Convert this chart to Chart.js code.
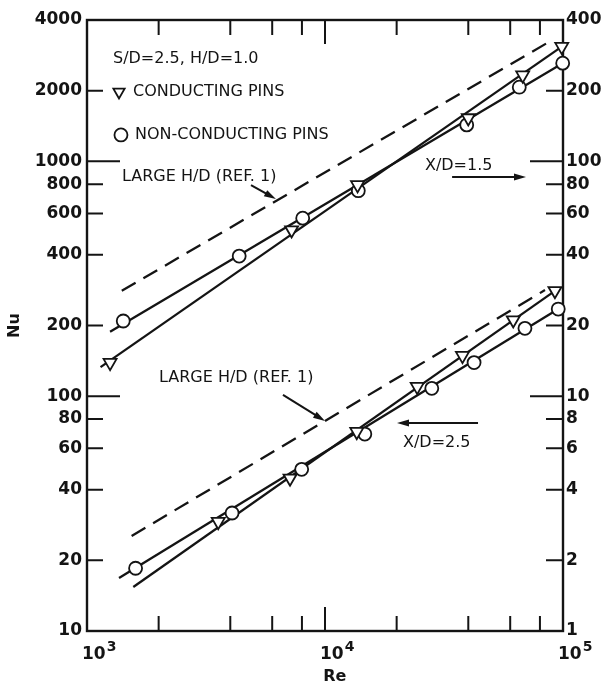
<!DOCTYPE html>
<html>
<head>
<meta charset="UTF-8">
<title>Nu vs Re - pin fin arrays</title>
<script src="https://cdn.jsdelivr.net/npm/chart.js"></script>
<style>
  html, body { margin: 0; padding: 0; background: #fff; }
  #nuChart { display: block; }
</style>
</head>
<body>
<canvas id="nuChart" width="607" height="688"></canvas>
<script>
// X/D = 1.5 (upper set)
const reNonCond15 = [1420, 4360, 8060, 13800, 39400, 65500, 99700];
const nuNonCond15 = [209, 395, 573, 750, 1430, 2070, 2620];
const reCond15 = [1250, 7240, 13700, 40000, 67700, 98800];
const nuCond15 = [139, 510, 794, 1530, 2330, 3080];
// fitted lines (end points)
const reFitNonCond15 = [1250, 99700];
const nuFitNonCond15 = [188, 2620];
const reFitCond15 = [1140, 98800];
const nuFitCond15 = [133, 3080];
const reRef15 = [1400, 85400];
const nuRef15 = [281, 3185];

// X/D = 2.5 (lower set)
const reNonCond25 = [1600, 4070, 7980, 14700, 28100, 42300, 69200, 95500];
const nuNonCond25 = [18.5, 31.8, 48.8, 69, 108, 139, 194.5, 235];
const reCond25 = [3560, 7130, 13600, 24400, 37800, 61800, 92500];
const nuCond25 = [29.2, 44.7, 70.6, 109.8, 148.8, 211, 281];
const reFitNonCond25 = [1363, 95500];
const nuFitNonCond25 = [16.8, 235];
const reFitCond25 = [1565, 92500];
const nuFitCond25 = [15.4, 281];
const reRef25 = [1540, 84000];
const nuRef25 = [25.4, 283];

// axis ticks
const reTicks = [1000, 10000, 100000];
const reTickExponents = ['3', '4', '5'];
const reMinorTicks = [2000, 4000, 6000, 8000, 10000, 20000, 40000, 60000, 80000];
const nuTicks = [10, 20, 40, 60, 80, 100, 200, 400, 600, 800, 1000, 2000, 4000];
const nuTickLabels = ['10', '20', '40', '60', '80', '100', '200', '400', '600', '800', '1000', '2000', '4000'];
const nuRightTicks = [1, 2, 4, 6, 8, 10, 20, 40, 60, 80, 100, 200, 400];
const nuRightTickLabels = ['1', '2', '4', '6', '8', '10', '20', '40', '60', '80', '100', '200', '400'];

const INK = '#141414';
const FONT = '"DejaVu Sans", sans-serif';

function pts(xs, ys) {
  return xs.map((x, i) => ({ x: x, y: ys[i] }));
}

function markerSet(xs, ys, style) {
  return {
    data: pts(xs, ys),
    showLine: false,
    pointStyle: style,
    pointRotation: style === 'triangle' ? 180 : 0,
    pointRadius: style === 'triangle' ? 7.5 : 6.5,
    backgroundColor: '#fff',
    borderColor: INK,
    pointBorderWidth: 1.8,
    clip: false
  };
}

function lineSet(xs, ys, dashed) {
  return {
    data: pts(xs, ys),
    showLine: true,
    pointRadius: 0,
    borderColor: INK,
    borderWidth: 2.3,
    borderDash: dashed ? [16, 9] : [],
    fill: false,
    clip: false
  };
}

// text notes and arrows, placed in data coordinates
const notes = [
  { text: 'S/D=2.5, H/D=1.0', re: 1286, nu: 2730 },
  { text: 'CONDUCTING PINS', re: 1561, nu: 1975 },
  { text: 'NON-CONDUCTING PINS', re: 1591, nu: 1296 },
  { text: 'LARGE H/D (REF. 1)', re: 1403, nu: 858 },
  { text: 'X/D=1.5', re: 26300, nu: 956 },
  { text: 'LARGE H/D (REF. 1)', re: 2007, nu: 119.6 },
  { text: 'X/D=2.5', re: 21270, nu: 63.2 }
];
const arrows = [
  { from: [4887, 793], to: [6223, 691] },
  { from: [34200, 858], to: [69900, 858] },
  { from: [6660, 101.2], to: [10000, 78.4] },
  { from: [43950, 76.9], to: [20070, 76.9] }
];
const keySymbols = [
  { style: 'triangle', re: 1363, nu: 1975 },
  { style: 'circle', re: 1389, nu: 1296 }
];

const framePlugin = {
  id: 'frame',
  beforeDatasetsDraw(chart) {
    const { ctx, chartArea: a, scales } = chart;
    ctx.save();
    ctx.strokeStyle = INK;
    ctx.lineWidth = 2.4;
    ctx.strokeRect(a.left, a.top, a.right - a.left, a.bottom - a.top);
    ctx.lineWidth = 2;
    ctx.beginPath();
    // Re ticks on bottom and top edges
    reMinorTicks.forEach(v => {
      const x = scales.x.getPixelForValue(v);
      const len = v === 10000 ? 24 : 15;
      ctx.moveTo(x, a.bottom); ctx.lineTo(x, a.bottom - len);
      ctx.moveTo(x, a.top); ctx.lineTo(x, a.top + len);
    });
    // Nu ticks on left and right edges
    nuTicks.slice(1, -1).forEach(v => {
      const y = scales.y.getPixelForValue(v);
      const len = (v === 100 || v === 1000) ? 33 : 16;
      ctx.moveTo(a.left, y); ctx.lineTo(a.left + len, y);
    });
    nuRightTicks.slice(1, -1).forEach(v => {
      const y = scales.y2.getPixelForValue(v);
      const len = (v === 10 || v === 100) ? 33 : 17;
      ctx.moveTo(a.right, y); ctx.lineTo(a.right - len, y);
    });
    ctx.stroke();
    ctx.restore();
  },
  afterDraw(chart) {
    const { ctx, scales, chartArea: a } = chart;
    const X = v => scales.x.getPixelForValue(v);
    const Y = v => scales.y.getPixelForValue(v);
    ctx.save();
    ctx.fillStyle = INK;
    ctx.strokeStyle = INK;
    ctx.font = '16px ' + FONT;
    ctx.textAlign = 'left';
    ctx.textBaseline = 'middle';
    notes.forEach(n => ctx.fillText(n.text, X(n.re), Y(n.nu)));

    // key symbols
    keySymbols.forEach(k => {
      ctx.fillStyle = '#fff';
      ctx.lineWidth = 1.8;
      Chart.helpers.drawPoint(ctx, {
        pointStyle: k.style,
        rotation: k.style === 'triangle' ? 180 : 0,
        radius: 6.5,
        borderWidth: 1.8
      }, X(k.re), Y(k.nu));
    });

    // arrows
    ctx.fillStyle = INK;
    ctx.lineWidth = 2;
    arrows.forEach(ar => {
      const x1 = X(ar.from[0]), y1 = Y(ar.from[1]);
      const x2 = X(ar.to[0]), y2 = Y(ar.to[1]);
      const ang = Math.atan2(y2 - y1, x2 - x1);
      const hl = 12, hw = 3.5;
      ctx.beginPath();
      ctx.moveTo(x1, y1);
      ctx.lineTo(x2 - Math.cos(ang) * hl * 0.8, y2 - Math.sin(ang) * hl * 0.8);
      ctx.stroke();
      ctx.beginPath();
      ctx.moveTo(x2, y2);
      ctx.lineTo(x2 - Math.cos(ang) * hl - Math.sin(ang) * hw, y2 - Math.sin(ang) * hl + Math.cos(ang) * hw);
      ctx.lineTo(x2 - Math.cos(ang) * hl + Math.sin(ang) * hw, y2 - Math.sin(ang) * hl - Math.cos(ang) * hw);
      ctx.closePath();
      ctx.fill();
    });

    // Re tick labels: 10 with a raised exponent
    ctx.fillStyle = INK;
    ctx.textAlign = 'left';
    ctx.textBaseline = 'alphabetic';
    reTicks.forEach((v, i) => {
      const x = X(v) - 5;
      ctx.font = 'bold 17px ' + FONT;
      ctx.fillText('10', x, a.bottom + 28);
      const w = ctx.measureText('10').width;
      ctx.font = 'bold 14px ' + FONT;
      ctx.fillText(reTickExponents[i], x + w + 1, a.bottom + 20);
    });

    // axis titles
    ctx.font = 'bold 16px ' + FONT;
    ctx.textAlign = 'center';
    ctx.textBaseline = 'middle';
    ctx.fillText('Re', X(11000), 677);
    ctx.translate(15, Y(200));
    ctx.rotate(-Math.PI / 2);
    ctx.fillText('Nu', 0, 0);
    ctx.restore();
  }
};

const tickFont = { family: FONT, size: 17, weight: 'bold' };

const ctx = document.getElementById('nuChart').getContext('2d');
const nuChart = new Chart(ctx, {
  type: 'scatter',
  data: {
    datasets: [
      markerSet(reCond15, nuCond15, 'triangle'),
      markerSet(reNonCond15, nuNonCond15, 'circle'),
      markerSet(reCond25, nuCond25, 'triangle'),
      markerSet(reNonCond25, nuNonCond25, 'circle'),
      lineSet(reFitCond15, nuFitCond15, false),
      lineSet(reFitNonCond15, nuFitNonCond15, false),
      lineSet(reRef15, nuRef15, true),
      lineSet(reFitCond25, nuFitCond25, false),
      lineSet(reFitNonCond25, nuFitNonCond25, false),
      lineSet(reRef25, nuRef25, true)
    ]
  },
  options: {
    responsive: false,
    animation: false,
    devicePixelRatio: 1,
    layout: { padding: { top: 20, left: 0, right: 0, bottom: 0 } },
    plugins: { legend: { display: false }, tooltip: { enabled: false } },
    scales: {
      x: {
        type: 'logarithmic', position: 'bottom', min: 1000, max: 100000,
        grid: { display: false, drawTicks: false }, border: { display: false },
        afterBuildTicks: s => { s.ticks = reTicks.map(v => ({ value: v })); },
        afterFit: s => { s.height = 57; },
        ticks: { display: false }
      },
      y: {
        type: 'logarithmic', position: 'left', min: 10, max: 4000,
        grid: { display: false, drawTicks: false }, border: { display: false },
        afterBuildTicks: s => { s.ticks = nuTicks.map(v => ({ value: v })); },
        afterFit: s => { s.width = 87; },
        ticks: {
          callback: (v, i) => nuTickLabels[i], autoSkip: false,
          padding: 5, font: tickFont, color: INK
        }
      },
      y2: {
        type: 'logarithmic', position: 'right', min: 1, max: 400,
        grid: { display: false, drawTicks: false }, border: { display: false },
        afterBuildTicks: s => { s.ticks = nuRightTicks.map(v => ({ value: v })); },
        afterFit: s => { s.width = 44; },
        ticks: {
          callback: (v, i) => nuRightTickLabels[i], autoSkip: false,
          padding: 3, font: tickFont, color: INK
        }
      }
    }
  },
  plugins: [framePlugin]
});
</script>
</body>
</html>
